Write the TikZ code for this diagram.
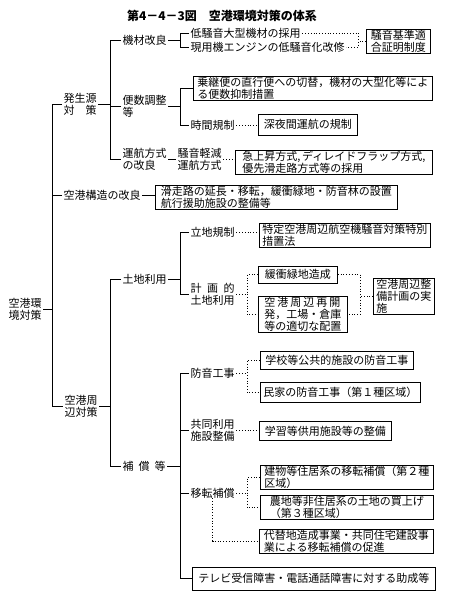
\documentclass[tikz,border=0pt]{standalone}
\usepackage{fontspec}
\setmainfont{Noto Sans CJK JP}
\tikzset{
  lbl/.style={anchor=west, inner xsep=1.5pt, inner ysep=0pt, align=left, font=\fontsize{11}{12}\selectfont},
  bx/.style={draw, line width=0.7pt, anchor=west, inner xsep=3pt, inner ysep=1pt, align=left, font=\fontsize{11}{12}\selectfont},
  ln/.style={line width=0.7pt},
  dt/.style={line width=0.8pt, dash pattern=on 0.8pt off 2pt},
}
\begin{document}
\begin{tikzpicture}[x=1pt,y=-1pt]
\fill[white] (0,0) rectangle (449,598);
\useasboundingbox (0,0) rectangle (449,598);
\coordinate (mx) at (52,0);
\coordinate (hx) at (110,0);
\coordinate (kx) at (180,0);
\coordinate (dA) at (358,0);
\coordinate (dB) at (247,0);
\coordinate (dC) at (360,0);

\node[font=\bfseries\fontsize{12}{14}\selectfont] (title) at (222,16) {第4－4－3図　空港環境対策の体系};

% level 0/1
\node[lbl] (env) at (7,309) {空港環\\境対策};
\node[lbl] (hatsu) at (62,104) {発生源\\対　策};
\node[lbl] (struct) at (62,195) {空港構造の改良};
\node[lbl] (shuhen) at (63,406) {空港周\\辺対策};

\node[lbl] (kizai) at (121,40) {機材改良};
\node[lbl] (binsu) at (121,106) {便数調整\\等};
\node[lbl] (unko) at (121,159) {運航方式\\の改良};
\node[lbl] (tochi) at (121,279) {土地利用};
\node[lbl] (hosho) at (121,466) {補\hspace{5pt}償\hspace{5pt}等};

% 機材改良
\node[lbl] (r1) at (189,33) {低騒音大型機材の採用};
\node[lbl] (r2) at (189,47) {現用機エンジンの低騒音化改修};
\node[bx, minimum width=64] (kijun) at (366,41) {騒音基準適\\合証明制度};

% 便数調整等
\node[bx, minimum width=239] (b1) at (193,88) {乗継便の直行便への切替，機材の大型化等によ\\る便数抑制措置};
\node[lbl] (b2) at (189,125) {時間規制};
\node[bx, minimum width=99, minimum height=21] (b2x) at (258,124.5) {深夜間運航の規制};

% 運航方式の改良
\node[lbl] (u2) at (176,159) {騒音軽減\\運航方式};
\node[bx, minimum width=197] (u3) at (235,162) {急上昇方式,\,ディレイドフラップ方式,\\優先滑走路方式等の採用};

% 空港構造の改良
\node[bx, minimum width=242] (s1) at (155,197) {滑走路の延長・移転，緩衝緑地・防音林の設置\\航行援助施設の整備等};

% 土地利用
\node[lbl] (ritchi) at (189,232) {立地規制};
\node[bx, minimum width=171] (t1) at (259,235) {特定空港周辺航空機騒音対策特別\\措置法};
\node[lbl] (keikaku) at (189,294) {計\hspace{5.5pt}画\hspace{5.5pt}的\\土地利用};
\node[bx, minimum width=79, minimum height=17] (k1) at (258,274.5) {緩衝緑地造成};
\node[bx, minimum width=89] (k2) at (258,314.5) {空\hspace{2pt}港\hspace{2pt}周\hspace{2pt}辺\hspace{2pt}再\hspace{2pt}開\\発，工場・倉庫\\等の適切な配置};
\node[bx, minimum width=61] (k3) at (373,296) {空港周辺整\\備計画の実\\施};

% 補償等
\node[lbl] (boon) at (189,373) {防音工事};
\node[bx, minimum width=153, minimum height=18] (h1) at (260,360) {学校等公共的施設の防音工事};
\node[bx, minimum width=157, minimum height=20] (h2) at (260,392.5) {民家の防音工事（第１種区域）};
\node[lbl] (kyodo) at (189,430) {共同利用\\施設整備};
\node[bx, minimum width=132, minimum height=19] (c1) at (259,431) {学習等供用施設等の整備};
\node[lbl] (iten) at (189,493) {移転補償};
\node[bx, minimum width=173] (i1) at (260,477.5) {建物等住居系の移転補償（第２種\\区域）};
\node[bx, minimum width=173] (i2) at (260,507.5) {農地等非住居系の土地の買上げ\\（第３種区域）};
\node[bx, minimum width=174] (i3) at (259,541) {代替地造成事業・共同住宅建設事\\業による移転補償の促進};
\node[bx, minimum width=243, minimum height=23] (tv) at (192,578.5) {テレビ受信障害・電話通話障害に対する助成等};

% connectors
\draw[ln] (hatsu.west) -| (shuhen.west -| mx) -- (shuhen.west);
\draw[ln] (struct.west) -- (struct.west -| mx);
\draw[ln] (env.east) -- (env.east -| mx);
\draw[ln] (kizai.west) -| (unko.west -| hx) -- (unko.west);
\draw[ln] (binsu.west) -- (binsu.west -| hx);
\draw[ln] (hatsu.east) -- (hatsu.east -| hx);
\draw[ln] (r1.west) -| (r2.west -| kx) -- (r2.west);
\draw[ln] (kizai.east) -- (kizai.east -| kx);
\draw[dt] (r1.east) -- (r1.east -| dA) -- (r2.east -| dA) -- (r2.east);
\draw[dt] (kijun.west) -- (kijun.west -| dA);
\draw[ln] (b1.west) -| (b2.west -| kx) -- (b2.west);
\draw[ln] (binsu.east) -- (binsu.east -| kx);
\draw[dt] (b2.east) -- (b2.east -| b2x.west);
\draw[ln] (unko.east) -- (unko.east -| u2.west);
\draw[dt] (u2.east) -- (u2.east -| u3.west);
\draw[ln] (struct.east) -- (struct.east -| s1.west);
\draw[ln] (tochi.west) -| (hosho.west -| hx) -- (hosho.west);
\draw[ln] (shuhen.east) -- (shuhen.east -| hx);
\draw[ln] (ritchi.west) -| (keikaku.west -| kx) -- (keikaku.west);
\draw[ln] (tochi.east) -- (tochi.east -| kx);
\draw[dt] (ritchi.east) -- (ritchi.east -| t1.west);
\draw[dt] (keikaku.east) -- (keikaku.east -| dB);
\draw[dt] (k1.west) -- (k1.west -| dB) -- (k2.west -| dB) -- (k2.west);
\draw[dt] (k1.east) -- (k1.east -| dC) -- (k2.east -| dC) -- (k2.east);
\draw[dt] (k3.west) -- (k3.west -| dC);
\draw[ln] (boon.west) -| (tv.west -| kx) -- (tv.west);
\draw[ln] (kyodo.west) -- (kyodo.west -| kx);
\draw[ln] (iten.west) -- (iten.west -| kx);
\draw[ln] (hosho.east) -- (hosho.east -| kx);
\draw[dt] (boon.east) -- (boon.east -| dB);
\draw[dt] (h1.west) -- (h1.west -| dB) -- (h2.west -| dB) -- (h2.west);
\draw[dt] (kyodo.east) -- (kyodo.east -| c1.west);
\draw[dt] (iten.east) -- (iten.east -| dB);
\draw[dt] (i1.west) -- (i1.west -| dB) -- (i2.west -| dB) -- (i2.west);
\draw[dt] (iten.south) |- (i3.west);
\end{tikzpicture}
\end{document}
